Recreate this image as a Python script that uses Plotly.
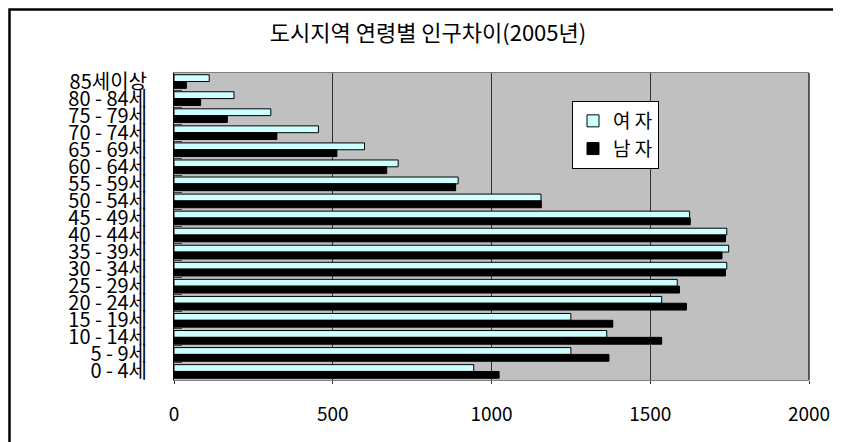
import plotly.graph_objects as go

# ---- data (top to bottom as shown) ----
categories = ["85세이상", "80 - 84세", "75 - 79세", "70 - 74세", "65 - 69세", "60 - 64세",
              "55 - 59세", "50 - 54세", "45 - 49세", "40 - 44세", "35 - 39세", "30 - 34세",
              "25 - 29세", "20 - 24세", "15 - 19세", "10 - 14세", "5 - 9세", "0 - 4세"]
female = [111, 189, 305, 455, 600, 706, 895, 1156, 1624, 1741, 1747, 1741,
          1585, 1536, 1250, 1363, 1250, 944]
male = [39, 84, 168, 324, 513, 670, 887, 1157, 1626, 1737, 1726, 1737,
        1592, 1614, 1382, 1536, 1370, 1024]
x_ticks = [0, 500, 1000, 1500, 2000]
title_text = "도시지역 연령별 인구차이(2005년)"

FONT = "Noto Sans CJK KR, Noto Sans, sans-serif"
OFF = 8  # page body margin
W, H = 841 - OFF, 442 - OFF
# target plot area in screen pixels: x 174..809, y 73..380
L, R, T, B = 174 - OFF, 841 - 809, 73 - OFF, 442 - 380
PW, PH = W - L - R, H - T - B

def px_x(p):
    return (p - OFF - L) / PW

def px_y(p):
    return (T + PH - (p - OFF)) / PH

fig = go.Figure()
fig.add_trace(go.Bar(y=categories, x=female, orientation="h", name="여 자",
                     marker=dict(color="#CCFFFF", line=dict(color="black", width=1))))
fig.add_trace(go.Bar(y=categories, x=male, orientation="h", name="남 자",
                     marker=dict(color="black", line=dict(color="black", width=1))))

fig.update_layout(
    width=W, height=H,
    margin=dict(l=L, r=R, t=T, b=B, autoexpand=False),
    paper_bgcolor="white",
    plot_bgcolor="#C0C0C0",
    barmode="group",
    bargap=0.2,
    bargroupgap=0,
    font=dict(family=FONT, color="black"),
    title=dict(text=title_text, x=(428 - OFF) / W, xanchor="center",
               y=1 - (33 - OFF) / H, yanchor="middle",
               font=dict(size=22, family=FONT, color="black")),
    legend=dict(x=px_x(572), y=px_y(101), xanchor="left", yanchor="top",
                bgcolor="white", bordercolor="black", borderwidth=1,
                font=dict(size=19, family=FONT), traceorder="normal",
                itemwidth=30, tracegroupgap=4),
    showlegend=True,
)

fig.update_xaxes(
    range=[0, 2000], tickvals=x_ticks, ticktext=[str(v) for v in x_ticks],
    showgrid=True, gridcolor="#303030", gridwidth=1,
    zeroline=False,
    showline=True, linecolor="#808080", linewidth=1, mirror=True,
    ticks="outside", ticklen=3, tickcolor="#303030",
    tickfont=dict(size=19, family=FONT), ticklabelstandoff=14,
)
fig.update_yaxes(
    type="category", autorange="reversed",
    tickmode="array", tickvals=categories, ticktext=categories,
    showgrid=False, zeroline=False,
    showline=True, linecolor="black", linewidth=1,
    ticks="inside", tickson="boundaries", ticklen=8, tickcolor="#404040",
    tickfont=dict(size=20, family=FONT), ticklabelstandoff=22,
)

# right border of plot area and outer frame
fig.add_shape(type="line", xref="paper", yref="paper", x0=1, x1=1, y0=0, y1=1,
              line=dict(color="#303030", width=1.5))
fig.add_shape(type="rect", xref="paper", yref="paper",
              x0=px_x(OFF + 1.5), x1=px_x(835), y0=px_y(460), y1=px_y(OFF + 1.5),
              line=dict(color="black", width=2.5), fillcolor="rgba(0,0,0,0)", layer="above")

fig.write_html("out.html")
